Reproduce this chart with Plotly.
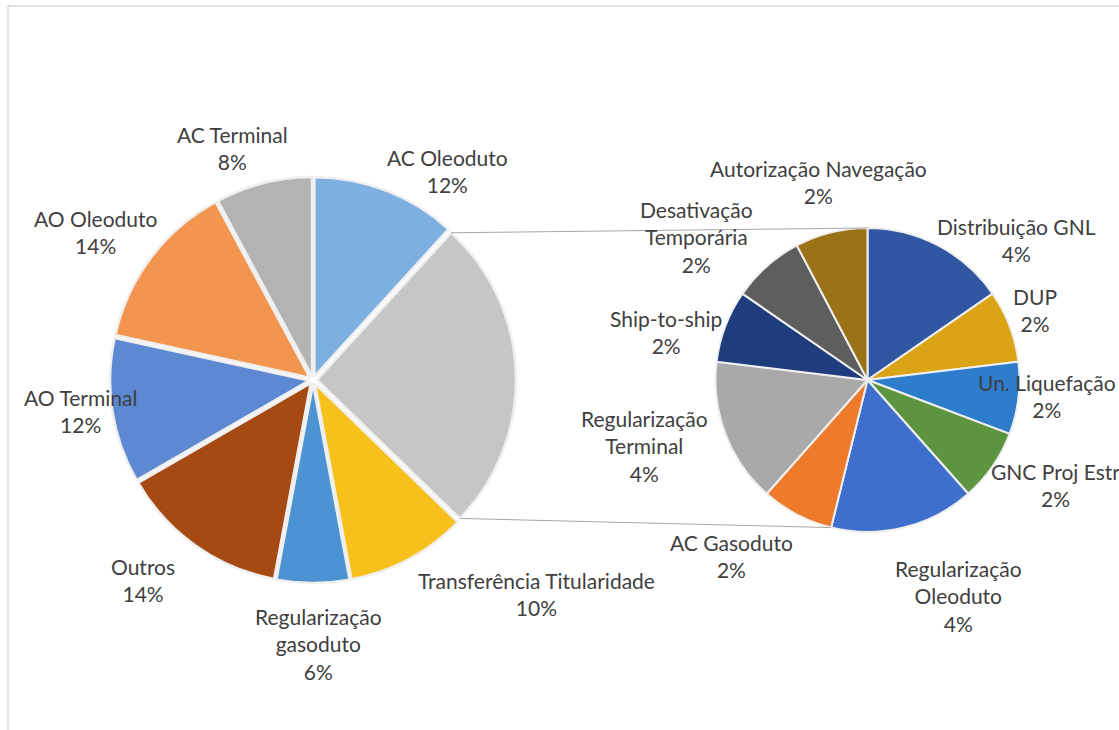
import math
import plotly.graph_objects as go

# ---------------- data ----------------
main_labels = ["AC Oleoduto", "Demais categorias", "Transferência Titularidade",
               "Regularização gasoduto", "Outros", "AO Terminal", "AO Oleoduto", "AC Terminal"]
main_values = [12, 26, 10, 6, 14, 12, 14, 8]
main_colors = ["#7DAFE0", "#C6C6C6", "#F7C01A", "#4D92D3", "#A64A14",
               "#5D88D2", "#F2964F", "#B3B3B3"]

sec_labels = ["Distribuição GNL", "DUP", "Un. Liquefação", "GNC Proj Estr",
              "Regularização Oleoduto", "AC Gasoduto", "Regularização Terminal",
              "Ship-to-ship", "Desativação Temporária", "Autorização Navegação"]
sec_values = [4, 2, 2, 2, 4, 2, 4, 2, 2, 2]
sec_colors = ["#3157A3", "#DBA416", "#2E7CCC", "#5D9440", "#3F6FCC",
              "#EE7B2B", "#A9A9A9", "#1F3D7C", "#5E5E5E", "#9A7317"]

wrapped = {"Regularização gasoduto", "Desativação Temporária",
           "Regularização Oleoduto", "Regularização Terminal"}

# label centres (pixels) – layout only
label_pos = {
    "AC Oleoduto": (447, 171), "Transferência Titularidade": (536, 594),
    "Regularização gasoduto": (318, 644), "Outros": (143, 580),
    "AO Terminal": (80, 411), "AO Oleoduto": (96, 232), "AC Terminal": (232, 148),
    "Distribuição GNL": (1016, 240), "DUP": (1035, 310), "Un. Liquefação": (1047, 396),
    "GNC Proj Estr": (1055, 485), "Regularização Oleoduto": (958, 596),
    "AC Gasoduto": (731, 556), "Regularização Terminal": (644, 446),
    "Ship-to-ship": (666, 332), "Desativação Temporária": (696, 237),
    "Autorização Navegação": (818, 182),
}

W, H = 1119, 730
# geometry (pixels)
cx1, cy1, R1, pull1 = 313, 380, 203, 0.02
cx2, cy2, R2 = 867.5, 380, 152

def px(x):
    return x / W

def py(y):
    return 1 - y / H

fig = go.Figure()
fig.add_trace(go.Pie(
    labels=main_labels, values=main_values, sort=False, direction="clockwise",
    rotation=0, textinfo="none", hoverinfo="label+value",
    marker=dict(colors=main_colors, line=dict(color="#EFEFEF", width=2.5)),
    pull=[pull1] * len(main_values), showlegend=False,
    domain=dict(x=[px(cx1 - R1), px(cx1 + R1)], y=[py(cy1 + R1), py(cy1 - R1)]),
))
fig.add_trace(go.Pie(
    labels=sec_labels, values=sec_values, sort=False, direction="clockwise",
    rotation=0, textinfo="none", hoverinfo="label+value",
    marker=dict(colors=sec_colors, line=dict(color="#EFEFEF", width=2)),
    showlegend=False,
    domain=dict(x=[px(cx2 - R2), px(cx2 + R2)], y=[py(cy2 + R2), py(cy2 - R2)]),
))

# labels
annotations = []
all_labels = list(zip(main_labels, main_values)) + list(zip(sec_labels, sec_values))
for name, val in all_labels:
    if name not in label_pos:
        continue
    x, y = label_pos[name]
    shown = name.replace(" ", "<br>") if name in wrapped else name
    annotations.append(dict(
        x=px(x), y=py(y), xref="paper", yref="paper", showarrow=False,
        text=f"{shown}<br>{val}%", align="center", xanchor="center", yanchor="middle",
        font=dict(family="Lato", size=21, color="#404040"),
    ))

# connector lines from the split slice to the secondary pie
tot1 = sum(main_values)
a_start = 2 * math.pi * sum(main_values[:1]) / tot1
a_end = 2 * math.pi * sum(main_values[:2]) / tot1
a_mid = (a_start + a_end) / 2
r1 = R1 / (1 + pull1)
ox, oy = pull1 * r1 * math.sin(a_mid), -pull1 * r1 * math.cos(a_mid)
p_top = (cx1 + ox + r1 * math.sin(a_start), cy1 + oy - r1 * math.cos(a_start))
p_bot = (cx1 + ox + r1 * math.sin(a_end), cy1 + oy - r1 * math.cos(a_end))
tot2 = sum(sec_values)
b_ang = 2 * math.pi * sum(sec_values[:5]) / tot2
q_top = (cx2, cy2 - R2)
q_bot = (cx2 + R2 * math.sin(b_ang), cy2 - R2 * math.cos(b_ang))

shapes = []
for p, q in [(p_top, q_top), (p_bot, q_bot)]:
    shapes.append(dict(type="line", xref="paper", yref="paper",
                       x0=px(p[0]), y0=py(p[1]), x1=px(q[0]), y1=py(q[1]),
                       line=dict(color="#A6A6A6", width=1)))
# outer frame
shapes.append(dict(type="line", xref="paper", yref="paper", x0=px(8), y0=py(6), x1=1, y1=py(6),
                   line=dict(color="#D9D9D9", width=1.5)))
shapes.append(dict(type="line", xref="paper", yref="paper", x0=px(8), y0=py(6), x1=px(8), y1=0,
                   line=dict(color="#D9D9D9", width=1.5)))

fig.update_layout(
    width=W, height=H, autosize=False,
    margin=dict(l=0, r=0, t=0, b=0),
    paper_bgcolor="white", plot_bgcolor="white",
    annotations=annotations, shapes=shapes,
)

fig.write_html("out.html", config={"displayModeBar": False},
               post_script="document.body.style.margin='0';")
